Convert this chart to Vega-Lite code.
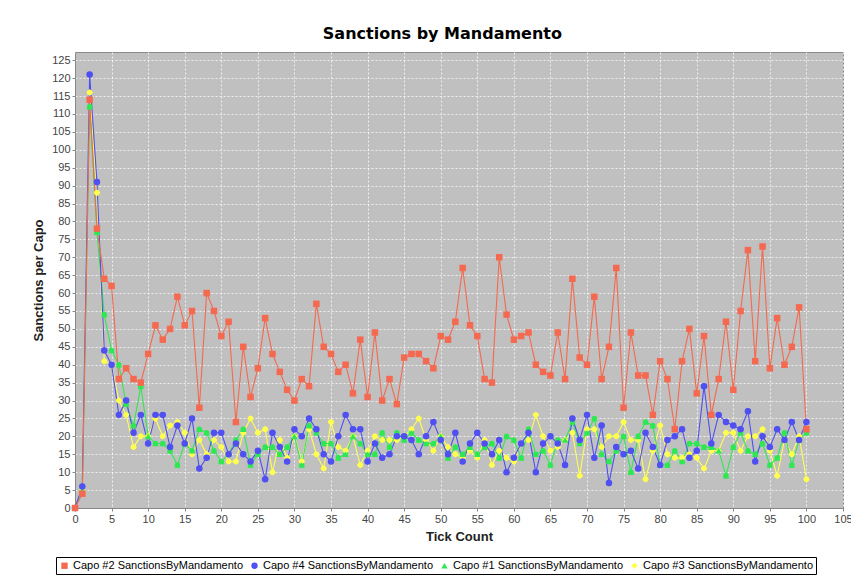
{
  "$schema": "https://vega.github.io/schema/vega-lite/v6.json",
  "width": 768,
  "height": 456,
  "autosize": {"type": "none"},
  "padding": {"left": 75, "top": 52, "right": 8, "bottom": 69},
  "background": "#ffffff",
  "title": {
    "text": "Sanctions by Mandamento",
    "font": "DejaVu Sans",
    "fontSize": 16,
    "fontWeight": "bold",
    "color": "#000000",
    "frame": "bounds",
    "anchor": "middle",
    "offset": 10
  },
  "data": {
    "values": [
      {"t":0,"capo2":0,"capo4":0,"capo1":0,"capo3":0},
      {"t":1,"capo2":4,"capo4":6,"capo1":5,"capo3":5},
      {"t":2,"capo2":114,"capo4":121,"capo1":112,"capo3":116},
      {"t":3,"capo2":78,"capo4":91,"capo1":77,"capo3":88},
      {"t":4,"capo2":64,"capo4":44,"capo1":54,"capo3":41},
      {"t":5,"capo2":62,"capo4":40,"capo1":44,"capo3":40},
      {"t":6,"capo2":36,"capo4":26,"capo1":40,"capo3":30},
      {"t":7,"capo2":39,"capo4":30,"capo1":29,"capo3":26},
      {"t":8,"capo2":36,"capo4":21,"capo1":23,"capo3":17},
      {"t":9,"capo2":35,"capo4":26,"capo1":34,"capo3":20},
      {"t":10,"capo2":43,"capo4":18,"capo1":20,"capo3":20},
      {"t":11,"capo2":51,"capo4":26,"capo1":18,"capo3":25},
      {"t":12,"capo2":47,"capo4":26,"capo1":18,"capo3":20},
      {"t":13,"capo2":50,"capo4":17,"capo1":16,"capo3":23},
      {"t":14,"capo2":59,"capo4":23,"capo1":12,"capo3":24},
      {"t":15,"capo2":51,"capo4":18,"capo1":18,"capo3":21},
      {"t":16,"capo2":55,"capo4":25,"capo1":16,"capo3":15},
      {"t":17,"capo2":28,"capo4":11,"capo1":22,"capo3":19},
      {"t":18,"capo2":60,"capo4":14,"capo1":21,"capo3":15},
      {"t":19,"capo2":55,"capo4":21,"capo1":16,"capo3":19},
      {"t":20,"capo2":48,"capo4":21,"capo1":13,"capo3":17},
      {"t":21,"capo2":52,"capo4":15,"capo1":15,"capo3":13},
      {"t":22,"capo2":24,"capo4":18,"capo1":19,"capo3":13},
      {"t":23,"capo2":45,"capo4":15,"capo1":22,"capo3":21},
      {"t":24,"capo2":31,"capo4":13,"capo1":12,"capo3":25},
      {"t":25,"capo2":39,"capo4":16,"capo1":15,"capo3":21},
      {"t":26,"capo2":53,"capo4":8,"capo1":17,"capo3":22},
      {"t":27,"capo2":43,"capo4":21,"capo1":17,"capo3":10},
      {"t":28,"capo2":38,"capo4":17,"capo1":15,"capo3":19},
      {"t":29,"capo2":33,"capo4":13,"capo1":17,"capo3":14},
      {"t":30,"capo2":30,"capo4":22,"capo1":20,"capo3":20},
      {"t":31,"capo2":36,"capo4":20,"capo1":12,"capo3":13},
      {"t":32,"capo2":34,"capo4":25,"capo1":23,"capo3":22},
      {"t":33,"capo2":57,"capo4":22,"capo1":21,"capo3":15},
      {"t":34,"capo2":45,"capo4":15,"capo1":18,"capo3":11},
      {"t":35,"capo2":43,"capo4":13,"capo1":18,"capo3":24},
      {"t":36,"capo2":38,"capo4":20,"capo1":14,"capo3":17},
      {"t":37,"capo2":40,"capo4":26,"capo1":15,"capo3":16},
      {"t":38,"capo2":32,"capo4":22,"capo1":20,"capo3":20},
      {"t":39,"capo2":47,"capo4":22,"capo1":18,"capo3":12},
      {"t":40,"capo2":31,"capo4":13,"capo1":15,"capo3":16},
      {"t":41,"capo2":49,"capo4":18,"capo1":15,"capo3":20},
      {"t":42,"capo2":30,"capo4":14,"capo1":21,"capo3":19},
      {"t":43,"capo2":36,"capo4":15,"capo1":17,"capo3":19},
      {"t":44,"capo2":29,"capo4":20,"capo1":21,"capo3":19},
      {"t":45,"capo2":42,"capo4":20,"capo1":19,"capo3":20},
      {"t":46,"capo2":43,"capo4":19,"capo1":21,"capo3":22},
      {"t":47,"capo2":43,"capo4":15,"capo1":19,"capo3":25},
      {"t":48,"capo2":41,"capo4":20,"capo1":18,"capo3":19},
      {"t":49,"capo2":39,"capo4":24,"capo1":18,"capo3":16},
      {"t":50,"capo2":48,"capo4":19,"capo1":20,"capo3":20},
      {"t":51,"capo2":47,"capo4":15,"capo1":14,"capo3":17},
      {"t":52,"capo2":52,"capo4":21,"capo1":17,"capo3":15},
      {"t":53,"capo2":67,"capo4":13,"capo1":15,"capo3":14},
      {"t":54,"capo2":51,"capo4":18,"capo1":17,"capo3":16},
      {"t":55,"capo2":48,"capo4":21,"capo1":15,"capo3":14},
      {"t":56,"capo2":36,"capo4":18,"capo1":17,"capo3":19},
      {"t":57,"capo2":35,"capo4":15,"capo1":18,"capo3":12},
      {"t":58,"capo2":70,"capo4":19,"capo1":14,"capo3":16},
      {"t":59,"capo2":54,"capo4":10,"capo1":20,"capo3":14},
      {"t":60,"capo2":47,"capo4":14,"capo1":19,"capo3":13},
      {"t":61,"capo2":48,"capo4":18,"capo1":14,"capo3":18},
      {"t":62,"capo2":49,"capo4":21,"capo1":22,"capo3":19},
      {"t":63,"capo2":40,"capo4":10,"capo1":15,"capo3":26},
      {"t":64,"capo2":38,"capo4":18,"capo1":16,"capo3":20},
      {"t":65,"capo2":37,"capo4":20,"capo1":12,"capo3":16},
      {"t":66,"capo2":49,"capo4":18,"capo1":19,"capo3":17},
      {"t":67,"capo2":36,"capo4":12,"capo1":19,"capo3":19},
      {"t":68,"capo2":64,"capo4":25,"capo1":24,"capo3":21},
      {"t":69,"capo2":42,"capo4":19,"capo1":18,"capo3":9},
      {"t":70,"capo2":40,"capo4":26,"capo1":21,"capo3":22},
      {"t":71,"capo2":59,"capo4":14,"capo1":25,"capo3":22},
      {"t":72,"capo2":36,"capo4":23,"capo1":15,"capo3":17},
      {"t":73,"capo2":45,"capo4":7,"capo1":13,"capo3":20},
      {"t":74,"capo2":67,"capo4":17,"capo1":16,"capo3":20},
      {"t":75,"capo2":28,"capo4":15,"capo1":20,"capo3":24},
      {"t":76,"capo2":49,"capo4":16,"capo1":10,"capo3":19},
      {"t":77,"capo2":37,"capo4":11,"capo1":20,"capo3":19},
      {"t":78,"capo2":37,"capo4":21,"capo1":24,"capo3":8},
      {"t":79,"capo2":26,"capo4":17,"capo1":23,"capo3":16},
      {"t":80,"capo2":41,"capo4":12,"capo1":12,"capo3":23},
      {"t":81,"capo2":36,"capo4":19,"capo1":12,"capo3":15},
      {"t":82,"capo2":22,"capo4":20,"capo1":16,"capo3":14},
      {"t":83,"capo2":41,"capo4":22,"capo1":13,"capo3":14},
      {"t":84,"capo2":50,"capo4":14,"capo1":18,"capo3":15},
      {"t":85,"capo2":32,"capo4":16,"capo1":18,"capo3":14},
      {"t":86,"capo2":48,"capo4":34,"capo1":17,"capo3":11},
      {"t":87,"capo2":26,"capo4":18,"capo1":17,"capo3":16},
      {"t":88,"capo2":36,"capo4":26,"capo1":16,"capo3":16},
      {"t":89,"capo2":52,"capo4":24,"capo1":9,"capo3":21},
      {"t":90,"capo2":33,"capo4":23,"capo1":17,"capo3":21},
      {"t":91,"capo2":55,"capo4":22,"capo1":21,"capo3":16},
      {"t":92,"capo2":72,"capo4":27,"capo1":16,"capo3":20},
      {"t":93,"capo2":41,"capo4":13,"capo1":15,"capo3":20},
      {"t":94,"capo2":73,"capo4":20,"capo1":18,"capo3":22},
      {"t":95,"capo2":39,"capo4":17,"capo1":12,"capo3":16},
      {"t":96,"capo2":53,"capo4":22,"capo1":14,"capo3":9},
      {"t":97,"capo2":40,"capo4":19,"capo1":21,"capo3":19},
      {"t":98,"capo2":45,"capo4":24,"capo1":12,"capo3":15},
      {"t":99,"capo2":56,"capo4":19,"capo1":19,"capo3":20},
      {"t":100,"capo2":22,"capo4":24,"capo1":21,"capo3":8}
    ]
  },
  "transform": [
    {"fold": ["capo3", "capo1", "capo4", "capo2"], "as": ["series", "value"]}
  ],
  "encoding": {
    "x": {
      "field": "t",
      "type": "quantitative",
      "title": "Tick Count",
      "scale": {"domain": [0, 105], "nice": false, "zero": false},
      "axis": {
        "values": [0,5,10,15,20,25,30,35,40,45,50,55,60,65,70,75,80,85,90,95,100,105],
        "labelFlush": false
      }
    },
    "y": {
      "field": "value",
      "type": "quantitative",
      "title": "Sanctions per Capo",
      "scale": {"domain": [0, 127.3], "nice": false},
      "axis": {
        "values": [0,5,10,15,20,25,30,35,40,45,50,55,60,65,70,75,80,85,90,95,100,105,110,115,120,125]
      }
    },
    "color": {
      "field": "series",
      "type": "nominal",
      "scale": {
        "domain": ["capo2", "capo4", "capo1", "capo3"],
        "range": ["#f4694f", "#4f4ff2", "#2ee852", "#ffff50"]
      },
      "legend": {
        "orient": "none",
        "legendX": -19,
        "legendY": 505,
        "direction": "horizontal",
        "title": null,
        "labelExpr": "'Capo #' + slice(datum.label, 4) + ' SanctionsByMandamento'",
        "labelLimit": 0,
        "strokeColor": "#000000",
        "padding": 3,
        "cornerRadius": 0,
        "fillColor": "#ffffff",
        "symbolSize": 40,
        "symbolStrokeWidth": 0,
        "labelFont": "Liberation Sans",
        "labelFontSize": 11,
        "labelColor": "#000000",
        "columnPadding": 6,
        "labelOffset": 3
      }
    },
    "shape": {
      "field": "series",
      "type": "nominal",
      "scale": {
        "domain": ["capo2", "capo4", "capo1", "capo3"],
        "range": ["square", "circle", "triangle-up", "diamond"]
      },
      "legend": {
        "orient": "none",
        "legendX": -19,
        "legendY": 505,
        "direction": "horizontal",
        "title": null,
        "labelExpr": "'Capo #' + slice(datum.label, 4) + ' SanctionsByMandamento'",
        "labelLimit": 0,
        "strokeColor": "#000000",
        "padding": 3,
        "cornerRadius": 0,
        "fillColor": "#ffffff",
        "symbolSize": 40,
        "symbolStrokeWidth": 0,
        "labelFont": "Liberation Sans",
        "labelFontSize": 11,
        "labelColor": "#000000",
        "columnPadding": 6,
        "labelOffset": 3
      }
    }
  },
  "layer": [
    {
      "mark": {"type": "line", "strokeWidth": 1.1},
      "encoding": {
        "shape": {"value": "circle"}
      }
    },
    {
      "mark": {"type": "point", "filled": true, "size": 42, "opacity": 1}
    }
  ],
  "config": {
    "view": {"fill": "#c0c0c0", "stroke": "#8a8a8a", "strokeWidth": 1},
    "axis": {
      "labelFont": "Liberation Sans",
      "labelFontSize": 11,
      "labelColor": "#444444",
      "titleFont": "Liberation Sans",
      "titleFontSize": 13,
      "titleFontWeight": "bold",
      "titleColor": "#222222",
      "gridColor": "#ffffff",
      "gridDash": [2, 2],
      "gridOpacity": 0.75,
      "gridWidth": 1,
      "domainColor": "#888888",
      "tickColor": "#888888",
      "tickSize": 3,
      "labelPadding": 2
    },
    "axisX": {"titlePadding": 6},
    "axisY": {"titlePadding": 6}
  }
}
